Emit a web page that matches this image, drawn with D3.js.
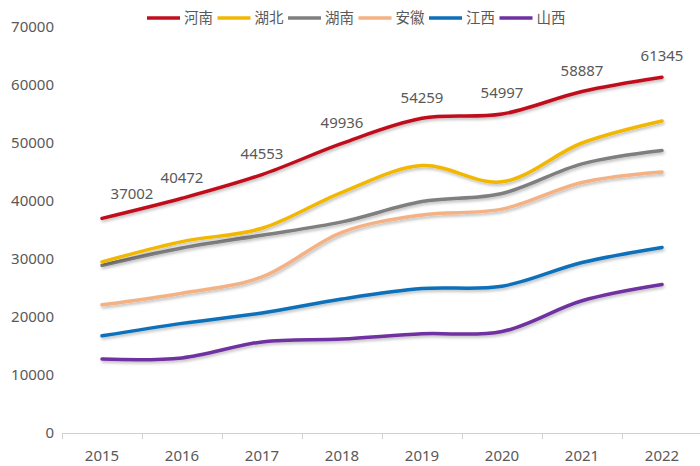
<!DOCTYPE html>
<html>
<head>
<meta charset="utf-8">
<script src="https://d3js.org/d3.v7.min.js"></script>
<style>
body { margin: 0; background: #fff; }
text { font-family: "Noto Sans", "Noto Sans CJK SC", sans-serif; fill: #595959; }
</style>
</head>
<body>
<svg width="700" height="466"></svg>
<script>
var years = ["2015", "2016", "2017", "2018", "2019", "2020", "2021", "2022"];
var henan = [37002, 40472, 44553, 49936, 54259, 54997, 58887, 61345];
var hubei = [29500, 33000, 35300, 41500, 46100, 43300, 50000, 53800];
var hunan = [28900, 31900, 34100, 36400, 39900, 41300, 46400, 48700];
var anhui = [22100, 24100, 26900, 34600, 37600, 38600, 43200, 45000];
var jiangxi = [16750, 18900, 20700, 23100, 24900, 25300, 29400, 32000];
var shanxi = [12750, 12950, 15700, 16200, 17100, 17500, 22800, 25600];
var yTicks = [0, 10000, 20000, 30000, 40000, 50000, 60000, 70000];

var series = [
  {name: "河南", color: "#C00F1E", values: henan},
  {name: "湖北", color: "#F2B705", values: hubei},
  {name: "湖南", color: "#7F7F7F", values: hunan},
  {name: "安徽", color: "#F4B183", values: anhui},
  {name: "江西", color: "#0C6FBA", values: jiangxi},
  {name: "山西", color: "#7030A0", values: shanxi}
];

var svg = d3.select("svg");

var x = d3.scaleBand().domain(years).range([62, 702]);
var y = d3.scaleLinear().domain([0, 70000]).range([433, 27]);

var defs = svg.append("defs");
defs.append("filter")
    .attr("id", "shadow")
    .attr("x", "-5%").attr("y", "-20%")
    .attr("width", "110%").attr("height", "140%")
  .append("feDropShadow")
    .attr("dx", 1).attr("dy", 2)
    .attr("stdDeviation", 1.5)
    .attr("flood-color", "#000")
    .attr("flood-opacity", 0.25);

// y labels, no axis line
svg.append("g")
  .selectAll("text")
  .data(yTicks)
  .enter().append("text")
    .attr("x", 54)
    .attr("y", function(d) { return y(d); })
    .attr("dy", "0.35em")
    .attr("text-anchor", "end")
    .attr("font-size", 15)
    .text(function(d) { return d; });

// x axis with ticks at band boundaries
var xa = svg.append("g");
xa.append("line")
    .attr("x1", x.range()[0]).attr("x2", x.range()[1])
    .attr("y1", y(0) + 0.5).attr("y2", y(0) + 0.5)
    .attr("stroke", "#d0d0d0");
xa.selectAll("line.tick")
  .data(years)
  .enter().append("line")
    .attr("class", "tick")
    .attr("x1", function(d) { return x(d) + 0.5; })
    .attr("x2", function(d) { return x(d) + 0.5; })
    .attr("y1", y(0)).attr("y2", y(0) + 6)
    .attr("stroke", "#d0d0d0");
xa.selectAll("text")
  .data(years)
  .enter().append("text")
    .attr("x", function(d) { return x(d) + x.bandwidth() / 2; })
    .attr("y", 456)
    .attr("dy", "0.35em")
    .attr("text-anchor", "middle")
    .attr("font-size", 15)
    .text(function(d) { return d; });

var line = d3.line()
    .x(function(d, i) { return x(years[i]) + x.bandwidth() / 2; })
    .y(function(d) { return y(d); })
    .curve(d3.curveCatmullRom.alpha(0.5));

svg.append("g")
  .selectAll("path")
  .data(series.slice().reverse())
  .enter().append("path")
    .attr("d", function(d) { return line(d.values); })
    .attr("fill", "none")
    .attr("stroke", function(d) { return d.color; })
    .attr("stroke-width", 3.5)
    .attr("stroke-linecap", "round")
    .attr("filter", "url(#shadow)");

// value labels for 河南
svg.append("g")
  .selectAll("text")
  .data(henan)
  .enter().append("text")
    .attr("x", function(d, i) { return x(years[i]) + x.bandwidth() / 2 + (i == 0 ? 30 : 0); })
    .attr("y", function(d, i) { return y(d) - (i == 0 ? 25 : 21); })
    .attr("text-anchor", "middle")
    .attr("font-size", 15)
    .attr("dy", "0.35em")
    .text(function(d) { return d; });

// legend
var lg = svg.append("g")
  .selectAll("g")
  .data(series)
  .enter().append("g")
    .attr("transform", function(d, i) { return "translate(" + (147 + i * 70.5) + ",18)"; });
lg.append("line")
    .attr("x1", 0).attr("x2", 33)
    .attr("stroke", function(d) { return d.color; })
    .attr("stroke-width", 3.5);
lg.append("text")
    .attr("x", 37)
    .attr("dy", "0.35em")
    .attr("font-size", 14.5)
    .text(function(d) { return d.name; });
</script>
</body>
</html>
